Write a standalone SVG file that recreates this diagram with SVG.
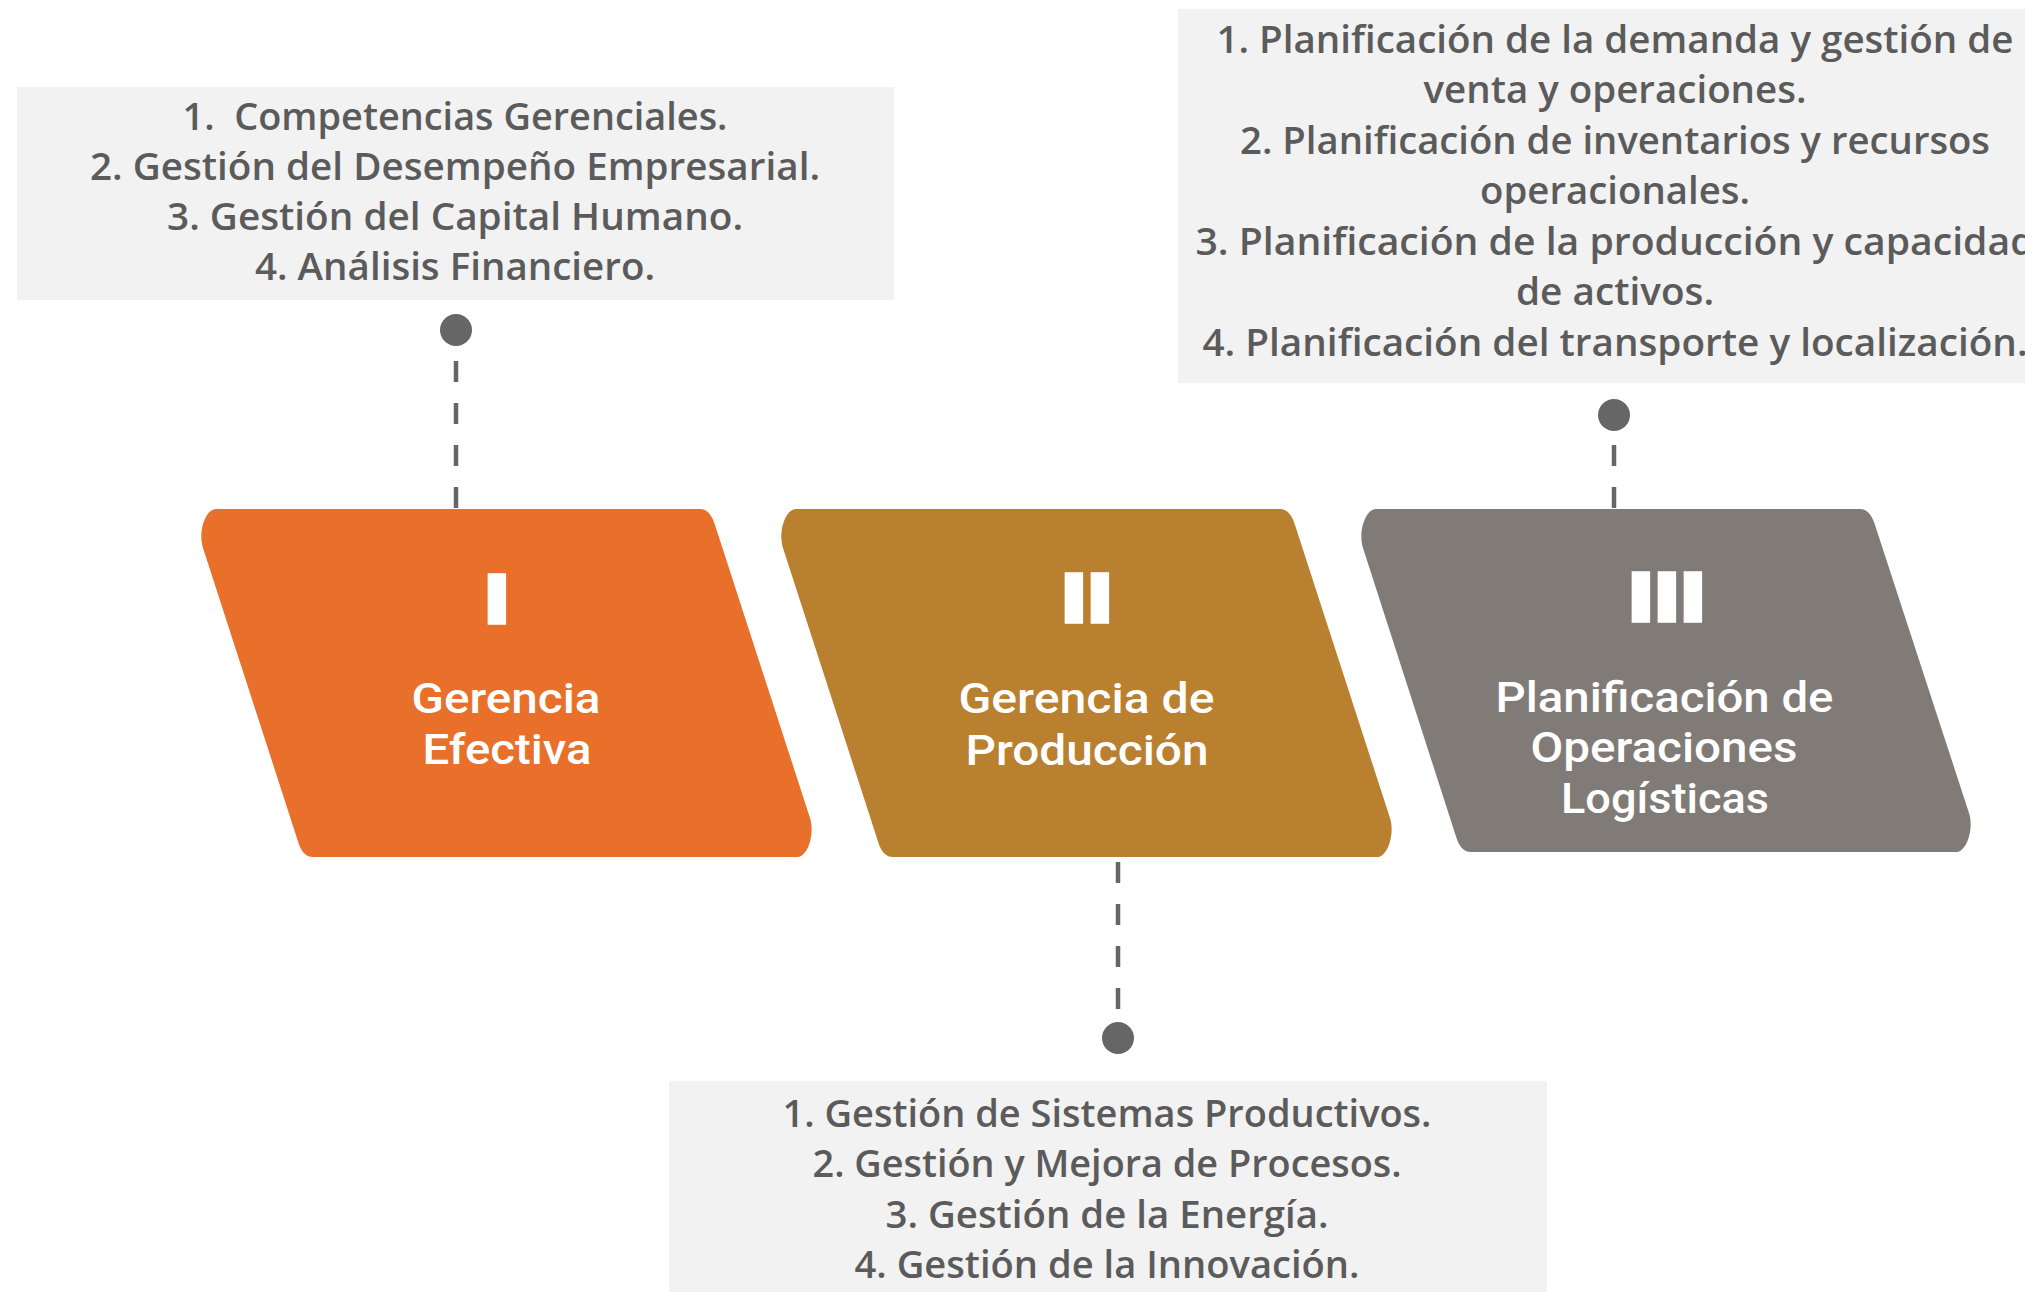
<svg xmlns="http://www.w3.org/2000/svg" width="2025" height="1292" viewBox="0 0 2025 1292">
<style>
.box{fill:#F2F2F2}
.bt{font-family:"Open Sans","Liberation Sans",sans-serif;font-size:37px;font-weight:600;fill:#5B5B5B;text-anchor:middle}
.lbl{font-family:Roboto,"Liberation Sans",sans-serif;font-size:42px;font-weight:500;fill:#FFFFFF;text-anchor:middle}
.num{font-family:"Liberation Sans",Arial,sans-serif;font-weight:700;font-size:60.4px;fill:#FFFFFF;stroke:#FFFFFF;stroke-width:9.7;letter-spacing:9.2px}
.conn{stroke:#666666;stroke-width:4.5;stroke-dasharray:21 21;fill:none}
.dot{fill:#666666}
</style>
<defs>
<path id="para" d="M 26 0 L 510 0 Q 520 0 525 16 L 620 309 C 625 324 618 348 607 348 L 123 348 Q 113 348 108.5 334 L 13 39 C 8 24 15 0 26 0 Z"/>
</defs>
<rect width="2025" height="1292" fill="#FFFFFF"/>

<g id="connectors">
<line class="conn" x1="456" y1="508" x2="456" y2="346"/>
<circle class="dot" cx="456" cy="330" r="16"/>
<line class="conn" x1="1118" y1="862" x2="1118" y2="1022"/>
<circle class="dot" cx="1118" cy="1038" r="16"/>
<line class="conn" x1="1614" y1="508" x2="1614" y2="431"/>
<circle class="dot" cx="1614" cy="415" r="16"/>
</g>

<g id="info-gerencia-efectiva">
<rect class="box" x="17" y="87" width="877" height="213"/>
<text class="bt" x="455" y="130" textLength="545" lengthAdjust="spacingAndGlyphs">1.&#160; Competencias Gerenciales.</text>
<text class="bt" x="455" y="180" textLength="730" lengthAdjust="spacingAndGlyphs">2. Gestión del Desempeño Empresarial.</text>
<text class="bt" x="455" y="230" textLength="576" lengthAdjust="spacingAndGlyphs">3. Gestión del Capital Humano.</text>
<text class="bt" x="455" y="280" textLength="400" lengthAdjust="spacingAndGlyphs">4. Análisis Financiero.</text>
</g>

<g id="info-planificacion">
<rect class="box" x="1178" y="9" width="877" height="374"/>
<text class="bt" x="1615" y="53" textLength="797" lengthAdjust="spacingAndGlyphs">1. Planificación de la demanda y gestión de</text>
<text class="bt" x="1615" y="103" textLength="383" lengthAdjust="spacingAndGlyphs">venta y operaciones.</text>
<text class="bt" x="1615" y="154" textLength="750" lengthAdjust="spacingAndGlyphs">2. Planificación de inventarios y recursos</text>
<text class="bt" x="1615" y="204" textLength="270" lengthAdjust="spacingAndGlyphs">operacionales.</text>
<text class="bt" x="1615" y="255" textLength="839" lengthAdjust="spacingAndGlyphs">3. Planificación de la producción y capacidad</text>
<text class="bt" x="1615" y="305" textLength="198" lengthAdjust="spacingAndGlyphs">de activos.</text>
<text class="bt" x="1615" y="356" textLength="825" lengthAdjust="spacingAndGlyphs">4. Planificación del transporte y localización.</text>
</g>

<g id="info-produccion">
<rect class="box" x="669" y="1081" width="878" height="211"/>
<text class="bt" x="1107" y="1127" textLength="649" lengthAdjust="spacingAndGlyphs">1. Gestión de Sistemas Productivos.</text>
<text class="bt" x="1107" y="1177" textLength="589" lengthAdjust="spacingAndGlyphs">2. Gestión y Mejora de Procesos.</text>
<text class="bt" x="1107" y="1228" textLength="443" lengthAdjust="spacingAndGlyphs">3. Gestión de la Energía.</text>
<text class="bt" x="1107" y="1278" textLength="505" lengthAdjust="spacingAndGlyphs">4. Gestión de la Innovación.</text>
</g>

<g id="node-gerencia-efectiva">
<use href="#para" transform="translate(190,509)" fill="#E8702A"/>
<text class="num" x="488.5" y="620">I</text>
<text class="lbl" x="506" y="713" textLength="189" lengthAdjust="spacingAndGlyphs">Gerencia</text>
<text class="lbl" x="507" y="764" textLength="169" lengthAdjust="spacingAndGlyphs">Efectiva</text>
</g>

<g id="node-gerencia-produccion">
<use href="#para" transform="translate(770,509)" fill="#B98030"/>
<text class="num" x="1065.5" y="619">II</text>
<text class="lbl" x="1086.5" y="713" textLength="256" lengthAdjust="spacingAndGlyphs">Gerencia de</text>
<text class="lbl" x="1087" y="765" textLength="243" lengthAdjust="spacingAndGlyphs">Producción</text>
</g>

<g id="node-planificacion">
<path transform="translate(1350,509)" fill="#807B77" d="M 26 0 L 510 0 Q 520 0 525 16 L 619 304 C 624 319 617 343 606 343 L 121 343 Q 111 343 106.5 329 L 13 39 C 8 24 15 0 26 0 Z"/>
<text class="num" x="1632.5" y="618">III</text>
<text class="lbl" x="1664.5" y="712" textLength="338" lengthAdjust="spacingAndGlyphs">Planificación de</text>
<text class="lbl" x="1664" y="762" textLength="267" lengthAdjust="spacingAndGlyphs">Operaciones</text>
<text class="lbl" x="1665" y="813" textLength="208" lengthAdjust="spacingAndGlyphs">Logísticas</text>
</g>
</svg>
